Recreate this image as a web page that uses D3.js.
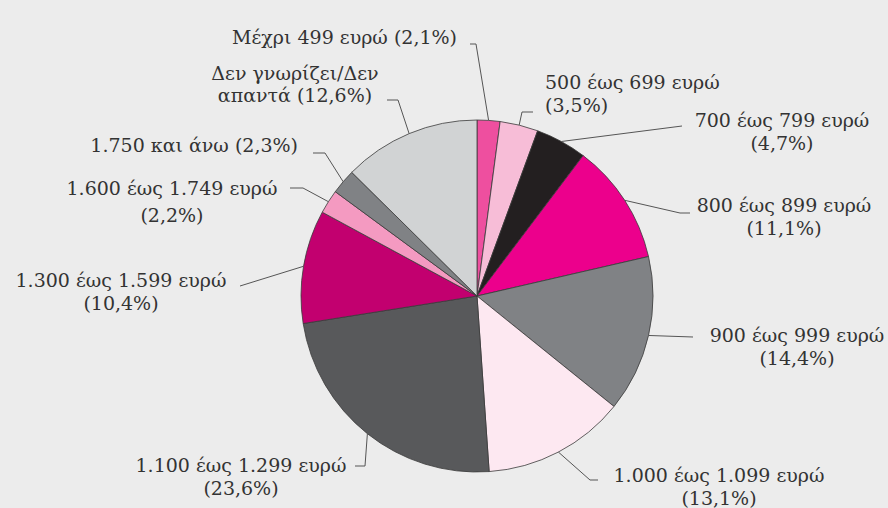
<!DOCTYPE html>
<html>
  <head>
    <meta http-equiv="content-type" content="text/html; charset=utf-8" />
    <title>Pie</title>
    <script type="text/javascript" src="https://cdn.jsdelivr.net/npm/d3@7"></script>
    <style type="text/css">
      body { margin: 0; background: #ececec; }
      svg { display: block; }
    </style>
  </head>
  <body>
    <script type="text/javascript">
// slices go clockwise from 12 o'clock
var categories = ["Μέχρι 499 ευρώ", "500 έως 699 ευρώ", "700 έως 799 ευρώ",
      "800 έως 899 ευρώ", "900 έως 999 ευρώ", "1.000 έως 1.099 ευρώ",
      "1.100 έως 1.299 ευρώ", "1.300 έως 1.599 ευρώ", "1.600 έως 1.749 ευρώ",
      "1.750 και άνω", "Δεν γνωρίζει/Δεν απαντά"];
var values = [2.1, 3.5, 4.7, 11.1, 14.4, 13.1, 23.6, 10.4, 2.2, 2.3, 12.6];
var colors = ["#ee4f9f", "#f7bdd7", "#231f20", "#ec008c", "#808285", "#fde8f1",
      "#58595b", "#c2006f", "#f49ac1", "#808285", "#d1d3d4"];

// how each label is broken into lines
var labelLines = [
  ["Μέχρι 499 ευρώ (2,1%)"],
  ["500 έως 699 ευρώ", "(3,5%)"],
  ["700 έως 799 ευρώ", "(4,7%)"],
  ["800 έως 899 ευρώ", "(11,1%)"],
  ["900 έως 999 ευρώ", "(14,4%)"],
  ["1.000 έως 1.099 ευρώ", "(13,1%)"],
  ["1.100 έως 1.299 ευρώ", "(23,6%)"],
  ["1.300 έως 1.599 ευρώ", "(10,4%)"],
  ["1.600 έως 1.749 ευρώ", "(2,2%)"],
  ["1.750 και άνω (2,3%)"],
  ["Δεν γνωρίζει/Δεν", "απαντά (12,6%)"]
];

var w = 888, h = 508,
    cx = 477, cy = 296, r = 176;

// label placement: text anchor point, line height, leader elbows
var labelPos = [
  { x: 457, y: 44, anchor: "end", lh: 23, elbow: [[476, 44], [470, 44]] },
  { x: 545, y: 89, anchor: "start", lh: 23, elbow: [[522, 112], [533, 112]] },
  { x: 782, y: 127, anchor: "middle", lh: 23, elbow: [[682, 126]] },
  { x: 784, y: 212, anchor: "middle", lh: 23, elbow: [[680, 213], [690, 213]] },
  { x: 797, y: 342, anchor: "middle", lh: 23, elbow: [[693, 337]] },
  { x: 719, y: 482, anchor: "middle", lh: 23, elbow: [[590, 480], [598, 480]] },
  { x: 241, y: 472, anchor: "middle", lh: 23, elbow: [[365, 466], [355, 466]] },
  { x: 121, y: 287, anchor: "middle", lh: 23, elbow: [[240, 286]] },
  { x: 172, y: 195, anchor: "middle", lh: 27, elbow: [[303, 188], [290, 188]] },
  { x: 298, y: 152, anchor: "end", lh: 23, elbow: [[325, 153], [313, 153]] },
  { x: 295, y: 80, anchor: "middle", lh: 22, elbow: [[398, 100], [387, 100]] }
];

var svg = d3.select("body").append("svg")
    .attr("width", w)
    .attr("height", h);

svg.append("rect")
    .attr("width", w).attr("height", h)
    .attr("fill", "#ececec");

var pie = d3.pie().sort(null).value(function(d) { return d; });
var arcs = pie(values);

var arc = d3.arc().innerRadius(0).outerRadius(r);
var edge = d3.arc().innerRadius(r).outerRadius(r);

var g = svg.append("g").attr("transform", "translate(" + cx + "," + cy + ")");

g.selectAll("path.slice")
  .data(arcs)
  .enter()
  .append("path")
    .attr("class", "slice")
    .attr("d", arc)
    .attr("fill", function(d, i) { return colors[i]; })
    .attr("stroke", "#3a3a3a")
    .attr("stroke-width", 0.8);

// leader lines
svg.selectAll("path.leader")
  .data(arcs)
  .enter()
  .append("path")
    .attr("class", "leader")
    .attr("fill", "none")
    .attr("stroke", "#555")
    .attr("stroke-width", 1)
    .attr("d", function(d, i) {
      var c = edge.centroid(d);
      var pts = [[c[0] + cx, c[1] + cy]].concat(labelPos[i].elbow);
      return d3.line()(pts);
    });

// labels
var labels = svg.selectAll("text.label")
  .data(arcs)
  .enter()
  .append("text")
    .attr("class", "label")
    .attr("font-family", "'DejaVu Serif', serif")
    .attr("font-size", 19)
    .attr("fill", "#333")
    .attr("text-anchor", function(d, i) { return labelPos[i].anchor; });

labels.each(function(d, i) {
  var p = labelPos[i];
  d3.select(this).selectAll("tspan")
    .data(labelLines[i])
    .enter()
    .append("tspan")
      .attr("x", p.x)
      .attr("y", function(t, j) { return p.y + j * p.lh; })
      .text(function(t) { return t; });
});
    </script>
  </body>
</html>
